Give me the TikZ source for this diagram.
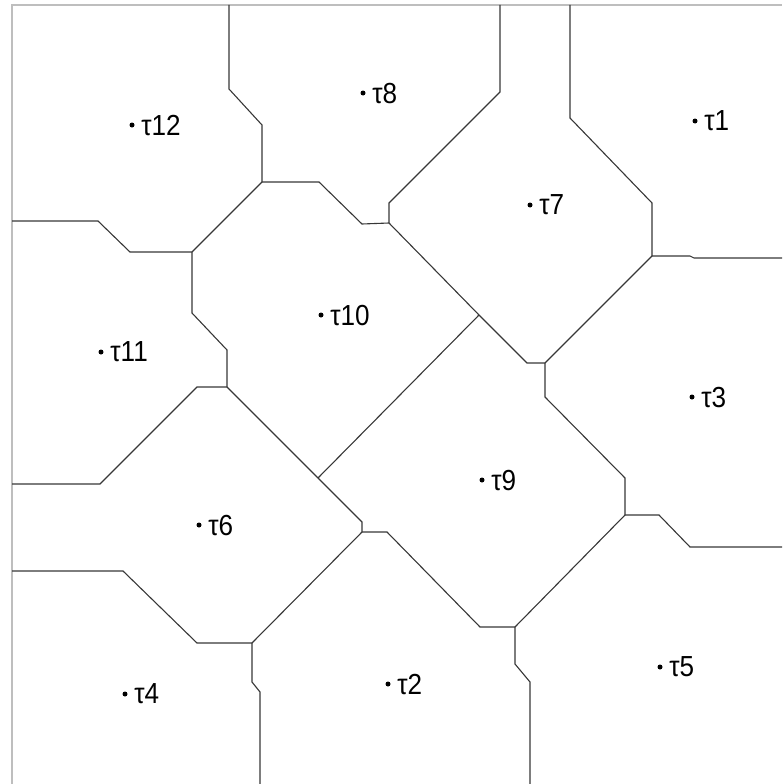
\documentclass[tikz,border=0pt]{standalone}
\usepackage{fontspec}
\setmainfont{Liberation Sans}
\newfontfamily\lblfont[FakeStretch=0.9]{Liberation Sans}
\usepackage{tikz}
\usetikzlibrary{positioning}
\definecolor{frameGray}{RGB}{190,190,190}
\definecolor{cellLine}{RGB}{55,55,55}
\tikzset{
  site/.style={circle,fill=black,inner sep=0pt,minimum size=5pt},
  lbl/.style={inner sep=0pt,font=\lblfont\fontsize{29}{33}\selectfont,text depth=0pt},
  frame/.style={frameGray,line width=1.6pt},
  cell/.style={cellLine,line width=1.1pt,line join=miter},
}

\begin{document}
\begin{tikzpicture}[x=1pt,y=-1pt]
  \useasboundingbox (0,0) rectangle (782,784);
  \draw[frame] (12,784) -- (12,5) -- (782,5);

  % cell corners where three cells meet
  \coordinate (c12) at (262,182);
  \coordinate (c8)  at (389,223);
  \coordinate (c7)  at (479,315);
  \coordinate (c9)  at (318,478);
  \coordinate (c6)  at (227,387);
  \coordinate (c11) at (192,252);
  \coordinate (c3)  at (545,363);
  \coordinate (c1)  at (652,256);
  \coordinate (c5)  at (625,515);
  \coordinate (c2)  at (515,627);
  \coordinate (c10) at (362,532);
  \coordinate (c4)  at (252,643);

  % boundaries
  \draw[cell] (229,5) -- (229,89) -- (262,125) -- (c12);
  \draw[cell] (c12) -- (319,182) -- (362,224) -- (c8);
  \draw[cell] (c8) -- (389,203) -- (500,92) -- (500,5);
  \draw[cell] (c8) -- (c7);
  \draw[cell] (c7) -- (527,363) -- (c3);
  \draw[cell] (c7) -- (c9);
  \draw[cell] (c12) -- (c11);
  \draw[cell] (c11) -- (130,252) -- (98,221) -- (12,221);
  \draw[cell] (c11) -- (192,313) -- (227,350) -- (c6);
  \draw[cell] (c6) -- (197,387) -- (100,484) -- (12,484);
  \draw[cell] (c6) -- (c9);
  \draw[cell] (c9) -- (362,522) -- (c10);
  \draw[cell] (c10) -- (387,532) -- (480,627) -- (c2);
  \draw[cell] (c10) -- (c4);
  \draw[cell] (c4) -- (197,643) -- (123,571) -- (12,571);
  \draw[cell] (c4) -- (252,682) -- (260,692) -- (260,784);
  \draw[cell] (c2) -- (515,664) -- (530,682) -- (530,784);
  \draw[cell] (c2) -- (c5);
  \draw[cell] (c5) -- (625,478) -- (545,397) -- (c3);
  \draw[cell] (c5) -- (659,515) -- (690,547) -- (782,547);
  \draw[cell] (c3) -- (c1);
  \draw[cell] (c1) -- (690,256) -- (694,258) -- (782,258);
  \draw[cell] (c1) -- (652,203) -- (570,118) -- (570,5);

  % sites
  \node[site] (t1)  at (695,121) {};
  \node[site] (t2)  at (388,684) {};
  \node[site] (t3)  at (692,397) {};
  \node[site] (t4)  at (125,694) {};
  \node[site] (t5)  at (660,667) {};
  \node[site] (t6)  at (199,525) {};
  \node[site] (t7)  at (530,205) {};
  \node[site] (t8)  at (363,93) {};
  \node[site] (t9)  at (482,480) {};
  \node[site] (t10) at (321,315) {};
  \node[site] (t11) at (101,352) {};
  \node[site] (t12) at (132,125) {};

  \node[lbl,right=6.5pt of t1]  (l1)  {τ1};
  \node[lbl,right=6.5pt of t2]  (l2)  {τ2};
  \node[lbl,right=6.5pt of t3]  (l3)  {τ3};
  \node[lbl,right=6.5pt of t4]  (l4)  {τ4};
  \node[lbl,right=6.5pt of t5]  (l5)  {τ5};
  \node[lbl,right=6.5pt of t6]  (l6)  {τ6};
  \node[lbl,right=6.5pt of t7]  (l7)  {τ7};
  \node[lbl,right=6.5pt of t8]  (l8)  {τ8};
  \node[lbl,right=6.5pt of t9]  (l9)  {τ9};
  \node[lbl,right=6.5pt of t10] (l10) {τ10};
  \node[lbl,right=6.5pt of t11] (l11) {τ11};
  \node[lbl,right=6.5pt of t12] (l12) {τ12};
\end{tikzpicture}
\end{document}
